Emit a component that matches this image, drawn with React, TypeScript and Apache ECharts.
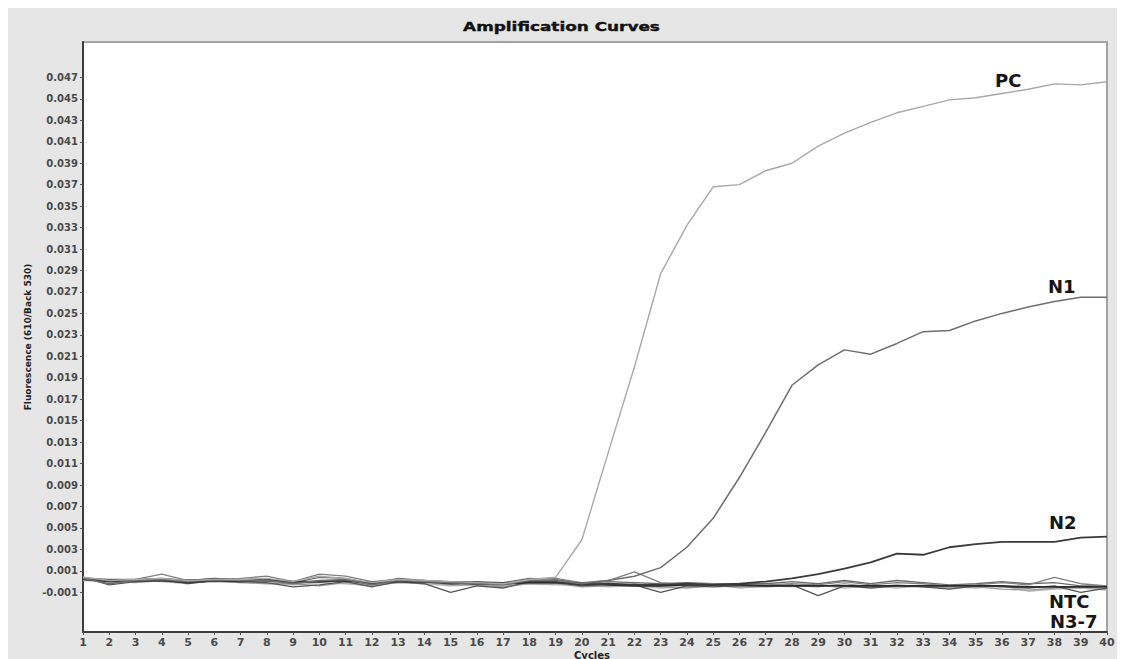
import React, { useEffect, useRef } from "react";
import * as echarts from "echarts";

const cycles = [1, 2, 3, 4, 5, 6, 7, 8, 9, 10, 11, 12, 13, 14, 15, 16, 17, 18, 19, 20, 21, 22, 23, 24, 25, 26, 27, 28, 29, 30, 31, 32, 33, 34, 35, 36, 37, 38, 39, 40];

const yTicks = [-0.001, 0.001, 0.003, 0.005, 0.007, 0.009, 0.011, 0.013, 0.015, 0.017, 0.019, 0.021, 0.023, 0.025, 0.027, 0.029, 0.031, 0.033, 0.035, 0.037, 0.039, 0.041, 0.043, 0.045, 0.047];

const pc = [0.0004, 0.0001, 0.0002, 0.0003, 0.0001, 0.0002, 0.0002, 0.0003, 0.0, 0.0005, 0.0003, -0.0001, 0.0002, 0.0001, 0.0, -0.0001, -0.0002, 0.0002, 0.0004, 0.0039, 0.012, 0.02, 0.0287, 0.0332, 0.0368, 0.037, 0.0383, 0.039, 0.0406, 0.0418, 0.0428, 0.0437, 0.0443, 0.0449, 0.0451, 0.0455, 0.0459, 0.0464, 0.0463, 0.0466];

const n1 = [0.0003, -0.0002, 0.0001, 0.0002, 0.0, 0.0002, 0.0001, 0.0001, -0.0002, 0.0001, 0.0002, -0.0003, 0.0001, 0.0, -0.0001, -0.0002, -0.0003, 0.0001, 0.0001, -0.0002, 0.0001, 0.0005, 0.0013, 0.0032, 0.0059, 0.0097, 0.0139, 0.0183, 0.0202, 0.0216, 0.0212, 0.0222, 0.0233, 0.0234, 0.0243, 0.025, 0.0256, 0.0261, 0.0265, 0.0265];

const n2 = [0.0002, 0.0, 0.0001, 0.0001, -0.0001, 0.0001, 0.0, 0.0002, -0.0001, 0.0, 0.0001, -0.0002, 0.0001, 0.0, -0.0002, -0.0001, -0.0002, 0.0001, 0.0, -0.0003, -0.0002, -0.0003, -0.0003, -0.0002, -0.0003, -0.0002, 0.0, 0.0003, 0.0007, 0.0012, 0.0018, 0.0026, 0.0025, 0.0032, 0.0035, 0.0037, 0.0037, 0.0037, 0.0041, 0.0042];

const ntc = [0.0003, 0.0001, 0.0001, 0.0001, 0.0001, 0.0002, 0.0001, 0.0001, 0.0, 0.0, 0.0001, -0.0001, 0.0, 0.0, -0.0001, -0.0002, -0.0002, -0.0001, -0.0001, -0.0002, -0.0003, -0.0004, -0.0004, -0.0003, -0.0003, -0.0003, -0.0004, -0.0004, -0.0004, -0.0004, -0.0004, -0.0004, -0.0004, -0.0004, -0.0004, -0.0004, -0.0005, -0.0005, -0.0005, -0.0005];

const n3 = [0.0004, 0.0001, 0.0002, 0.0007, 0.0001, 0.0002, 0.0003, 0.0005, 0.0, 0.0007, 0.0005, 0.0, 0.0002, 0.0001, -0.0001, -0.0002, -0.0003, 0.0002, 0.0003, -0.0001, 0.0001, 0.0009, -0.0001, -0.0003, -0.0002, -0.0003, -0.0003, -0.0002, -0.0003, 0.0, -0.0003, -0.0001, -0.0002, -0.0004, -0.0003, -0.0001, -0.0003, 0.0004, -0.0002, -0.0004];

const n4 = [0.0004, -0.0003, 0.0, 0.0002, -0.0002, 0.0001, 0.0, -0.0001, -0.0005, -0.0003, 0.0, -0.0005, 0.0, -0.0002, -0.001, -0.0004, -0.0006, 0.0, -0.0001, -0.0004, -0.0002, -0.0003, -0.001, -0.0004, -0.0005, -0.0004, -0.0004, -0.0003, -0.0013, -0.0004, -0.0006, -0.0004, -0.0005, -0.0007, -0.0004, -0.0005, -0.0006, -0.0004, -0.001, -0.0006];

const n5 = [0.0002, 0.0, -0.0001, 0.0001, -0.0001, 0.0, -0.0001, -0.0002, -0.0002, -0.0004, -0.0001, -0.0003, -0.0001, -0.0001, -0.0003, -0.0003, -0.0005, -0.0002, -0.0002, -0.0005, -0.0004, -0.0002, -0.0005, -0.0006, -0.0004, -0.0005, -0.0005, -0.0004, -0.0005, -0.0002, -0.0005, -0.0003, -0.0005, -0.0006, -0.0005, -0.0007, -0.0008, -0.0006, -0.0005, -0.0007];

const n6 = [0.0003, 0.0002, 0.0002, 0.0003, 0.0001, 0.0003, 0.0002, 0.0002, -0.0001, 0.0004, 0.0003, -0.0002, 0.0003, 0.0001, 0.0, 0.0, -0.0001, 0.0003, 0.0002, -0.0002, 0.0, -0.0001, -0.0002, -0.0001, -0.0002, -0.0002, -0.0002, 0.0, -0.0002, 0.0001, -0.0002, 0.0001, -0.0001, -0.0003, -0.0002, 0.0, -0.0002, -0.0001, -0.0004, -0.0004];

const n7 = [0.0001, 0.0, 0.0001, 0.0, -0.0002, 0.0001, -0.0001, 0.0, -0.0003, -0.0001, -0.0002, -0.0004, -0.0001, -0.0002, -0.0004, -0.0003, -0.0004, -0.0002, -0.0003, -0.0003, -0.0005, -0.0004, -0.0006, -0.0005, -0.0003, -0.0006, -0.0004, -0.0005, -0.0003, -0.0006, -0.0004, -0.0006, -0.0004, -0.0005, -0.0006, -0.0004, -0.0009, -0.0007, -0.0006, -0.0008];

const FONT = "DejaVu Sans";

export default function App() {
  const ref = useRef<HTMLDivElement>(null);

  useEffect(() => {
    document.documentElement.style.overflow = "hidden";
    document.body.style.overflow = "hidden";
    const chart = echarts.init(ref.current!, undefined, { renderer: "svg" });
    const pairs = (vals: number[]) => cycles.map((c, i) => [c, vals[i]]);
    const line = (name: string, vals: number[], color: string, width: number) => ({
      name,
      type: "line",
      data: pairs(vals),
      showSymbol: false,
      smooth: false,
      lineStyle: { color, width },
      itemStyle: { color },
      emphasis: { disabled: true },
      z: 3,
    });

    const labelText = (text: string, x: number, y: number) => ({
      type: "text",
      x,
      y,
      z: 100,
      style: {
        text,
        font: `bold 18px "${FONT}"`,
        lineHeight: 17,
        fill: "#151515",
        textAlign: "left",
        textVerticalAlign: "middle",
      },
    });

    chart.setOption({
      animation: false,
      backgroundColor: "#e6e6e6",
      textStyle: { fontFamily: FONT },
      grid: {
        left: 75,
        right: 18,
        top: 34,
        bottom: 27,
        show: true,
        backgroundColor: "#ffffff",
        borderColor: "#a3a3a3",
        borderWidth: 2,
        containLabel: false,
      },
      xAxis: {
        type: "value",
        min: 1,
        max: 40,
        interval: 1,
        axisLine: { show: true, onZero: false, lineStyle: { color: "#3c3c3c", width: 2 } },
        axisTick: { show: true, length: 3, lineStyle: { color: "#555" } },
        axisLabel: {
          show: true,
          margin: 4,
          fontSize: 11,
          lineHeight: 12,
          fontWeight: "bold",
          color: "#4a4a4a",
          fontFamily: FONT,
        },
        splitLine: { show: false },
      },
      yAxis: {
        type: "value",
        min: -0.0047,
        max: 0.0503,
        axisLine: { show: true, onZero: false, lineStyle: { color: "#3c3c3c", width: 2 } },
        axisTick: {
          show: true,
          length: 3,
          customValues: yTicks,
          lineStyle: { color: "#555" },
        },
        axisLabel: {
          show: true,
          customValues: yTicks,
          margin: 5,
          fontSize: 10,
          fontWeight: "bold",
          color: "#4a4a4a",
          fontFamily: FONT,
          formatter: (v: number) => v.toFixed(3),
        },
        splitLine: { show: false },
      },
      series: [
        line("N7", n7, "#b8b8b8", 1.3),
        line("N5", n5, "#9a9a9a", 1.3),
        line("N6", n6, "#6a6a6a", 1.3),
        line("N4", n4, "#555555", 1.3),
        line("N3", n3, "#808080", 1.3),
        line("NTC", ntc, "#2a2a2a", 1.8),
        line("N2", n2, "#3a3a3a", 1.8),
        line("N1", n1, "#6e6e6e", 1.5),
        line("PC", pc, "#a8a8a8", 1.4),
      ],
      graphic: [
        {
          type: "text",
          x: 553.5,
          y: 19,
          scaleX: 1.3,
          z: 100,
          style: {
            text: "Amplification Curves",
            font: `bold 13px "${FONT}"`,
            fill: "#111",
            stroke: "#111",
            lineWidth: 0.4,
            textAlign: "center",
            textVerticalAlign: "middle",
          },
        },
        {
          type: "text",
          x: 20,
          y: 329,
          rotation: Math.PI / 2,
          z: 100,
          style: {
            text: "Fluorescence (610/Back 530)",
            font: `bold 9px "${FONT}"`,
            fill: "#222",
            textAlign: "center",
            textVerticalAlign: "middle",
          },
        },
        {
          type: "text",
          x: 584,
          y: 647,
          z: 100,
          style: {
            text: "Cycles",
            font: `bold 10px "${FONT}"`,
            lineHeight: 10,
            fill: "#222",
            textAlign: "center",
            textVerticalAlign: "middle",
          },
        },
        labelText("PC", 987, 72),
        labelText("N1", 1040, 278),
        labelText("N2", 1041, 514),
        labelText("NTC", 1041, 593),
        labelText("N3-7", 1042, 613),
      ],
    });

    return () => chart.dispose();
  }, []);

  return <div ref={ref} style={{ width: 1117, height: 651 }} />;
}
